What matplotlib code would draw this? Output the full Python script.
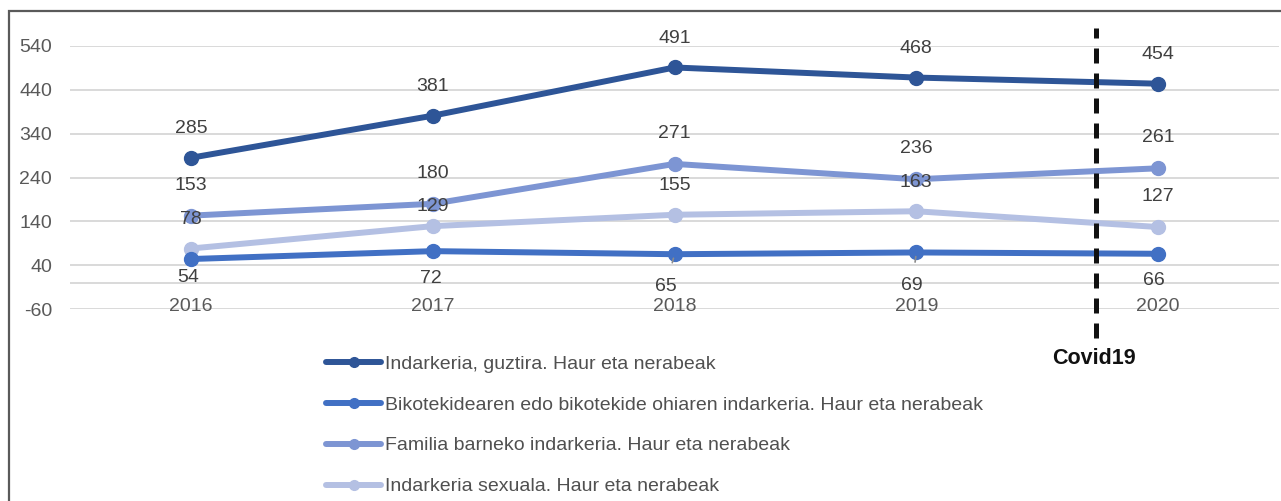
import matplotlib.pyplot as plt
from matplotlib.patches import Rectangle

years = ["2016", "2017", "2018", "2019", "2020"]
total = [285, 381, 491, 468, 454]
partner = [54, 72, 65, 69, 66]
family = [153, 180, 271, 236, 261]
sexual = [78, 129, 155, 163, 127]

series_names = [
    "Indarkeria, guztira. Haur eta nerabeak",
    "Bikotekidearen edo bikotekide ohiaren indarkeria. Haur eta nerabeak",
    "Familia barneko indarkeria. Haur eta nerabeak",
    "Indarkeria sexuala. Haur eta nerabeak",
]
colors = ["#2E5597", "#4170C4", "#7D95D3", "#B4C0E3"]
yticks = [-60, 40, 140, 240, 340, 440, 540]

# label offsets in points (dx, dy) per series
label_offsets = [
    [(0, 21)] * 5,
    [(-2, -13), (-1, -20), (-6, -23), (-3, -24), (-3, -19)],
    [(0, 22)] * 5,
    [(0, 21), (0, 14), (0, 21), (0, 21), (0, 22)],
]
leader = [False, False, True, True, False]

fig = plt.figure(figsize=(12.81, 5.01), dpi=100)
plt.rcParams['font.family'] = ['Liberation Sans', 'DejaVu Sans']

# outer frame
fig.patches.append(Rectangle((9 / 1281, -0.1), 1.2, (490 / 501) + 0.1,
                             transform=fig.transFigure, fill=False,
                             edgecolor='#5a5a5a', lw=1.6))

ax = fig.add_axes([70 / 1281, (501 - 309) / 501, 1209 / 1281, 263 / 501])
x = list(range(len(years)))

for yv in yticks:
    ax.axhline(yv, color='#D9D9D9', lw=1.4, zorder=0)
ax.axhline(0, color='#D9D9D9', lw=1.4, zorder=0)

all_data = [total, partner, family, sexual]
draw_order = [3, 2, 1, 0]
for i in draw_order:
    ax.plot(x, all_data[i], color=colors[i], lw=4.3, marker='o', ms=10,
            solid_capstyle='round', zorder=3 + (3 - i), label=series_names[i])

for i, data in enumerate(all_data):
    for j, v in enumerate(data):
        dx, dy = label_offsets[i][j]
        if i == 1 and leader[j]:
            ax.annotate(str(v), (j, v), xytext=(dx, dy), textcoords='offset points',
                        ha='center', va='center', fontsize=14, color='#404040',
                        arrowprops=dict(arrowstyle='-', color='#8c8c8c', lw=1.2,
                                        shrinkA=9, shrinkB=3), zorder=10)
        else:
            ax.annotate(str(v), (j, v), xytext=(dx, dy), textcoords='offset points',
                        ha='center', va='center', fontsize=14, color='#404040', zorder=10)

ax.set_xlim(-0.5, 4.5)
ax.set_ylim(-60, 540)
ax.set_yticks(yticks)
ax.set_yticklabels([str(t) for t in yticks], fontsize=14, color='#595959')
ax.set_xticks(x)
ax.set_xticklabels(years, fontsize=14, color='#595959')
ax.tick_params(axis='y', length=0, pad=13)
ax.tick_params(axis='x', length=0, pad=-2)
for lab in ax.get_xticklabels():
    lab.set_va('center')
for s in ax.spines.values():
    s.set_visible(False)
ax.set_facecolor('none')

# Covid19 marker
ax.axvline(3.744, ymin=-0.11, ymax=1.068, color='#111111', lw=3.6,
           linestyle=(0, (3, 2)), clip_on=False, zorder=8)
fig.text(1094 / 1281, 1 - 358 / 501, "Covid19", ha='center', va='center',
         fontsize=15.5, fontweight='bold', color='#111111')

handles, labels = ax.get_legend_handles_labels()
order = [series_names.index(l) for l in labels]
pairs = sorted(zip(order, handles, labels))
leg = fig.legend([p[1] for p in pairs], [p[2] for p in pairs],
                 loc='upper left', bbox_to_anchor=(326 / 1281, 1 - 355 / 501),
                 frameon=False, fontsize=14, handlelength=2.85, handletextpad=0.2,
                 labelspacing=1.2, borderaxespad=0, borderpad=0)
for t in leg.get_texts():
    t.set_color('#505050')
for h in leg.legend_handles:
    h.set_markersize(7)

fig.savefig("out.png", dpi=100, facecolor='white')
